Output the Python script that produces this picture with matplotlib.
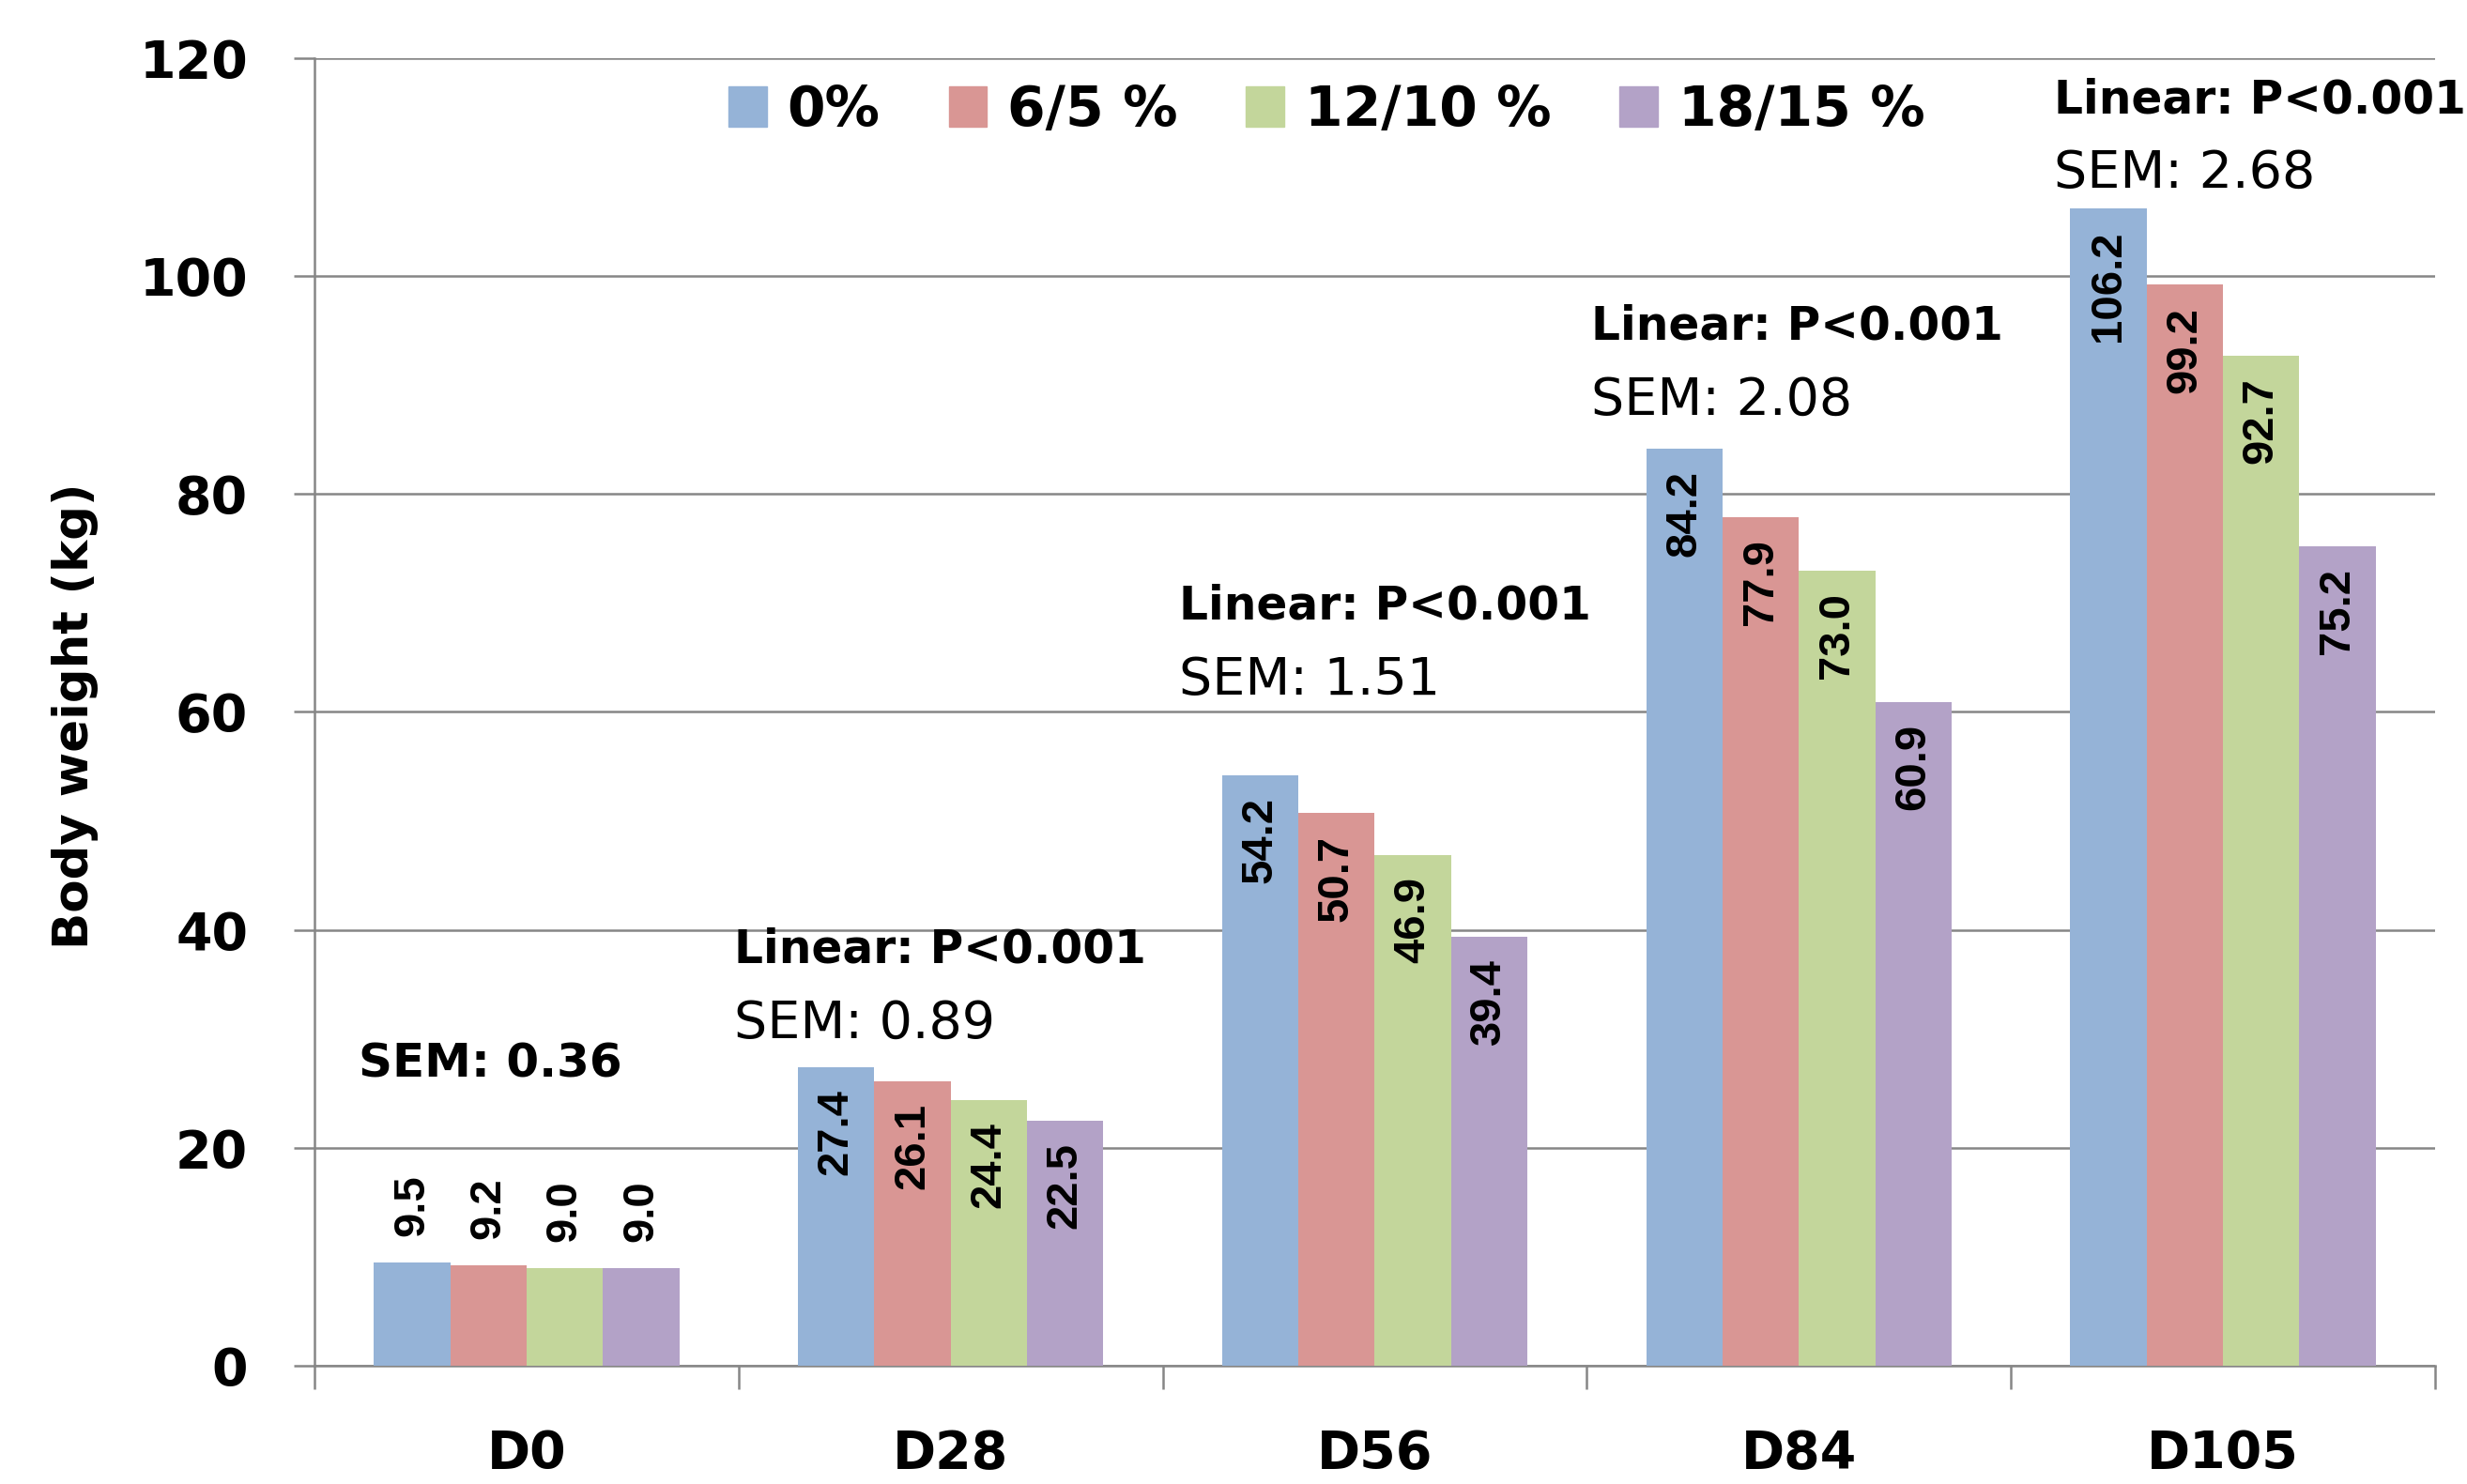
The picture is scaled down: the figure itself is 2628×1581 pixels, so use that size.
import matplotlib.pyplot as plt
import numpy as np
from matplotlib.patches import Patch

days = ['D0', 'D28', 'D56', 'D84', 'D105']
groups = ['0%', '6/5 %', '12/10 %', '18/15 %']
colors = ['#95B3D7', '#D99694', '#C3D69B', '#B3A2C7']

# body weight per group, one list per level
w_0 = [9.5, 27.4, 54.2, 84.2, 106.2]
w_6 = [9.2, 26.1, 50.7, 77.9, 99.2]
w_12 = [9.0, 24.4, 46.9, 73.0, 92.7]
w_18 = [9.0, 22.5, 39.4, 60.9, 75.2]

sem = ['SEM: 0.36', 'SEM: 0.89', 'SEM: 1.51', 'SEM: 2.08', 'SEM: 2.68']
linear = [None, 'Linear: P<0.001', 'Linear: P<0.001', 'Linear: P<0.001', 'Linear: P<0.001']
note_x = [-0.397, 0.49, 1.539, 2.511, 3.602]
note_y = [27.7, 38.2, 69.7, 95.4, 116.2]

font = 'DejaVu Sans'
grid_c = '#868686'

fig = plt.figure(figsize=(26.28, 15.81), dpi=100)
ax = fig.add_axes([0.1275, 0.0797, 0.8595, 0.8811])

x = np.arange(len(days))
bw = 0.18
series = [w_0, w_6, w_12, w_18]
for i, vals in enumerate(series):
    xs = x + (i - 1.5) * bw
    ax.bar(xs, vals, width=bw, color=colors[i], zorder=3)
    for xi, v in zip(xs, vals):
        if v < 15:
            ax.text(xi, v + 2.4, f'{v:.1f}', rotation=90, ha='center', va='bottom',
                    fontsize=34, fontweight='bold', family='Liberation Sans', zorder=4)
        else:
            ax.text(xi, v - 2.0, f'{v:.1f}', rotation=90, ha='center', va='top',
                    fontsize=34, fontweight='bold', family='Liberation Sans', zorder=4)

for i in range(len(days)):
    if linear[i] is None:
        ax.text(note_x[i], note_y[i], sem[i], fontsize=36, fontweight='bold',
                family=font, va='center', ha='left')
    else:
        ax.text(note_x[i], note_y[i], linear[i], fontsize=35, fontweight='bold',
                family=font, va='center', ha='left', clip_on=False)
        ax.text(note_x[i], note_y[i] - 6.8, sem[i], fontsize=40,
                family=font, va='center', ha='left')

ax.set_xlim(-0.5, 4.5)
ax.set_ylim(0, 120)
ax.set_yticks(range(0, 121, 20))
ax.yaxis.grid(True, color=grid_c, linewidth=1.8, zorder=0)
ax.set_axisbelow(True)

ax.set_xticks(x)
ax.set_xticklabels(days)
ax.set_xticks(np.arange(-0.5, 4.6, 1), minor=True)
ax.tick_params(axis='x', which='major', length=0, pad=48)
ax.tick_params(axis='x', which='minor', length=18, width=1.8, color=grid_c)
ax.tick_params(axis='y', length=16, width=1.8, color=grid_c, pad=35)
for lab in ax.get_xticklabels() + ax.get_yticklabels():
    lab.set_fontsize(40)
    lab.set_fontweight('bold')
    lab.set_family(font)

for s in ['top', 'right']:
    ax.spines[s].set_visible(False)
for s in ['left', 'bottom']:
    ax.spines[s].set_color(grid_c)
    ax.spines[s].set_linewidth(1.8)

fig.text(80 / 2628, 1 - 763 / 1581, 'Body weight (kg)', rotation=90, ha='center', va='center',
         fontsize=37, fontweight='bold', family=font)

handles = [Patch(color=c) for c in colors]
ax.legend(handles, groups, ncol=4, frameon=False, loc='center',
          bbox_to_anchor=(0.4774, 0.96), prop={'family': font, 'weight': 'bold', 'size': 42},
          handlelength=0.7, handleheight=0.75, handletextpad=0.37, columnspacing=1.25)

plt.savefig('out.png', dpi=100)
